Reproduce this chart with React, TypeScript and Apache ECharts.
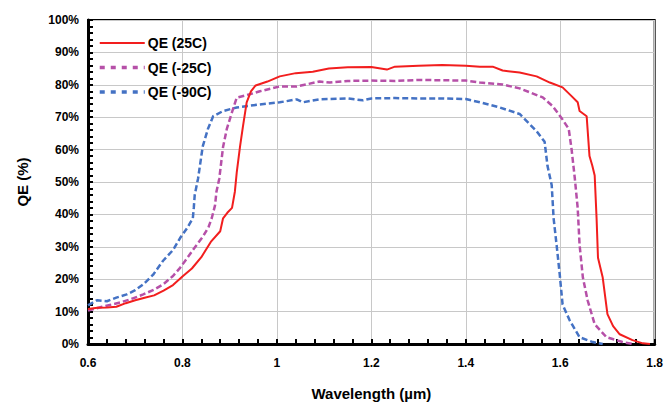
import React, { useEffect, useRef } from "react";
import * as echarts from "echarts";

const xTicksMin = 0.6;
const xTicksMax = 1.8;

const redName = "QE (25C)";
const redWl = [0.6,0.62,0.64,0.66,0.68,0.7,0.72,0.74,0.76,0.78,0.8,0.82,0.84,0.86,0.88,0.886,0.895,0.905,0.911,0.915,0.922,0.928,0.936,0.945,0.955,0.98,1.006,1.04,1.076,1.11,1.15,1.2,1.233,1.25,1.3,1.35,1.4,1.43,1.457,1.478,1.514,1.55,1.578,1.605,1.624,1.637,1.641,1.656,1.662,1.668,1.673,1.677,1.68,1.69,1.7,1.712,1.726,1.753,1.775,1.79];
const redQe = [10.8,11.2,11.3,11.5,12.6,13.5,14.3,15.0,16.5,18.2,20.8,23.3,26.8,31.5,34.8,38.8,40.5,42,47,53,61,67,74.6,78,79.8,81,82.6,83.6,84,85,85.4,85.5,84.7,85.6,85.9,86.1,85.9,85.6,85.6,84.4,83.8,82.6,80.7,79.2,76.5,74.6,71.9,70.3,58,55,52,38.8,26.6,20.5,9.2,5.5,3,1.2,0.2,0];

const magName = "QE (-25C)";
const magWl = [0.6,0.63,0.668,0.69,0.717,0.74,0.759,0.78,0.795,0.81,0.822,0.844,0.855,0.862,0.869,0.872,0.878,0.886,0.894,0.907,0.915,0.936,0.964,1.006,1.042,1.09,1.112,1.15,1.2,1.25,1.3,1.35,1.4,1.43,1.478,1.514,1.563,1.584,1.603,1.618,1.624,1.631,1.637,1.641,1.648,1.658,1.673,1.698,1.732,1.753];
const magQe = [10.3,11.5,12.8,13.8,15.3,16.8,18.4,21,23.5,26.5,29,33.3,36,38.8,42.8,47,51,60.8,66.4,72.5,76,76.8,78,79.5,79.5,81,80.7,81.2,81.3,81.2,81.5,81.4,81.3,80.7,80.1,78.9,76.1,73.4,69.7,66.4,60.2,51,42,30.6,20.5,13.5,6.1,2.1,0.6,0];

const blueName = "QE (-90C)";
const blueWl = [0.6,0.619,0.64,0.66,0.682,0.7,0.717,0.738,0.759,0.78,0.795,0.81,0.822,0.824,0.826,0.833,0.843,0.854,0.865,0.886,0.915,0.95,1.006,1.042,1.055,1.09,1.15,1.182,1.2,1.25,1.3,1.35,1.4,1.43,1.472,1.514,1.55,1.567,1.573,1.582,1.586,1.593,1.599,1.605,1.62,1.641,1.669,1.69];
const blueQe = [11.9,13.5,13.2,14.3,15.3,16.6,18.4,21.4,25.7,29,32.7,35.8,38.8,42,46,51,61,66.4,70.3,71.9,73,73.7,74.6,75.5,74.6,75.5,75.8,75.2,75.8,75.9,75.8,75.8,75.6,74.6,73,71,65.7,62.4,55,49,38.8,29.7,21.4,12.2,7.3,2.1,0.6,0];

const pairs = (xs: number[], ys: number[]) => xs.map((x, i) => [x, ys[i]]);

const FONT = "'Liberation Sans', Arial, sans-serif";

export default function App() {
  const ref = useRef<HTMLDivElement>(null);
  useEffect(() => {
    if (!ref.current) return;
    const chart = echarts.init(ref.current, null, { renderer: "svg" });
    chart.setOption({
      animation: false,
      backgroundColor: "#fff",
      grid: { left: 88, right: 10, top: 20, bottom: 59, show: true, borderColor: "#000", borderWidth: 2 },
      legend: {
        orient: "vertical",
        left: 93,
        top: 31,
        itemWidth: 45,
        itemHeight: 14,
        itemGap: 10.5,
        itemStyle: { opacity: 0 },
        textStyle: { fontFamily: FONT, fontSize: 14, fontWeight: "bold", color: "#000", padding: [0, 0, 0, -2] },
        data: [
          { name: redName, lineStyle: { width: 2 } },
          { name: magName, lineStyle: { width: 3.5, type: [5, 6] } },
          { name: blueName, lineStyle: { width: 3.5, type: [5, 6] } },
        ],
      },
      xAxis: {
        type: "value",
        min: xTicksMin,
        max: xTicksMax,
        interval: 0.2,
        name: "Wavelength (µm)",
        nameLocation: "middle",
        nameGap: 42,
        nameTextStyle: { fontFamily: FONT, fontSize: 15, fontWeight: "bold", color: "#000" },
        axisLine: { lineStyle: { color: "#000", width: 3 } },
        axisTick: { inside: true, length: 5, lineStyle: { color: "#000", width: 2 } },
        minorTick: { show: true, splitNumber: 5, length: 5, lineStyle: { color: "#000", width: 2 } },
        axisLabel: { fontFamily: FONT, fontSize: 12, fontWeight: "bold", color: "#000", margin: 13 },
        splitLine: { show: true, lineStyle: { color: "#c8c8c8", width: 1 } },
      },
      yAxis: {
        type: "value",
        min: 0,
        max: 100,
        interval: 10,
        name: "QE (%)",
        nameLocation: "middle",
        nameGap: 58,
        nameTextStyle: { fontFamily: FONT, fontSize: 15, fontWeight: "bold", color: "#000" },
        axisLine: { show: true, lineStyle: { color: "#000", width: 3 } },
        axisTick: { show: true, inside: true, length: 5, lineStyle: { color: "#000", width: 2 } },
        minorTick: { show: true, splitNumber: 5, length: 5, lineStyle: { color: "#000", width: 2 } },
        axisLabel: { fontFamily: FONT, fontSize: 12, fontWeight: "bold", color: "#000", margin: 9, formatter: "{value}%" },
        splitLine: { show: true, lineStyle: { color: "#c8c8c8", width: 1 } },
      },
      series: [
        {
          name: blueName,
          type: "line",
          data: pairs(blueWl, blueQe),
          showSymbol: false,
          symbol: "none",
          color: "#4472C4",
          lineStyle: { color: "#4472C4", width: 2.5, type: [6, 3] },
          z: 2,
        },
        {
          name: magName,
          type: "line",
          data: pairs(magWl, magQe),
          showSymbol: false,
          symbol: "none",
          color: "#B650A8",
          lineStyle: { color: "#B650A8", width: 2.5, type: [6, 3] },
          z: 3,
        },
        {
          name: redName,
          type: "line",
          data: pairs(redWl, redQe),
          showSymbol: false,
          symbol: "none",
          color: "#F21E1E",
          lineStyle: { color: "#F21E1E", width: 2 },
          z: 4,
        },
      ],
    });
    return () => chart.dispose();
  }, []);
  return <div ref={ref} style={{ width: 666, height: 406, position: "fixed", left: 0, top: 0 }} />;
}
